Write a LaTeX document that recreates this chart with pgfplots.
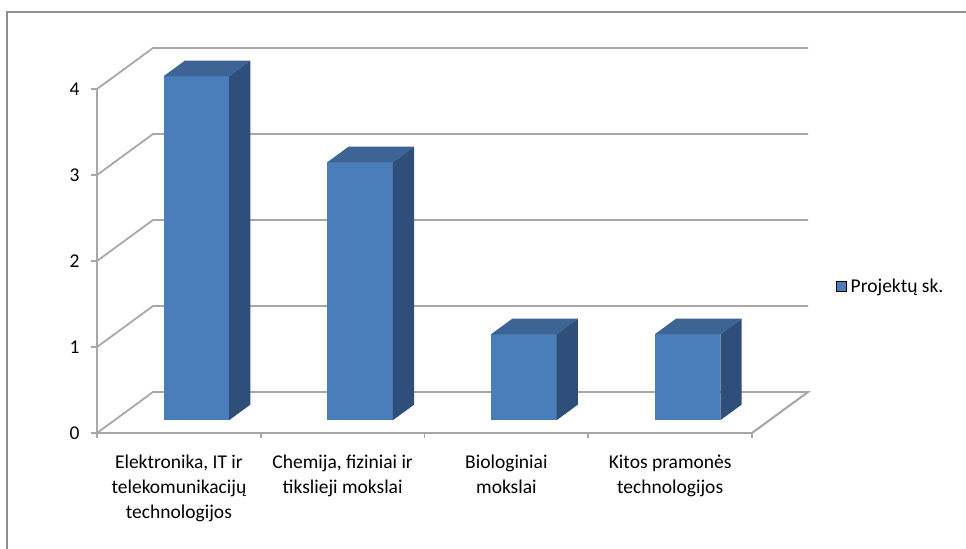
\documentclass[border=0pt]{standalone}
\usepackage{fontspec}
\setmainfont{Carlito}
\usepackage{pgfplots}
\pgfplotsset{compat=1.18}

\definecolor{barfront}{HTML}{4A7EBB}
\definecolor{bartop}{HTML}{3C6494}
\definecolor{barside}{HTML}{2F4F7A}
\definecolor{gridgray}{HTML}{A8A8A8}
\definecolor{framegray}{HTML}{8E8E8E}

% one 3D bar: x from, x to, value (depth 0.31 .. 0.69)
\newcommand{\cuboid}[3]{%
  \addplot3[fill=barfront, draw=none, forget plot] coordinates {(#1,0.31,0) (#2,0.31,0) (#2,0.31,#3) (#1,0.31,#3)};
  \addplot3[fill=bartop, draw=none, forget plot] coordinates {(#1,0.31,#3) (#2,0.31,#3) (#2,0.69,#3) (#1,0.69,#3)};
  \addplot3[fill=barside, draw=none, forget plot] coordinates {(#2,0.31,0) (#2,0.69,0) (#2,0.69,#3) (#2,0.31,#3)};
}

\begin{document}
\begin{tikzpicture}[font=\fontsize{9.75pt}{12.5pt}\selectfont]
\path[use as bounding box] (0,0) rectangle (483pt,274.5pt);
\begin{axis}[
    at={(89.45pt,58pt)}, anchor=origin,
    x={(81.875pt,0pt)}, y={(28pt,20.5pt)}, z={(0pt,43pt)},
    xmin=-0.5, xmax=3.5, ymin=0, ymax=1, zmin=0, zmax=4,
    clip=false,
    axis lines*=left,
    axis line style={gridgray, line width=0.9pt},
    major tick length=0pt,
    xtick={0,1,2,3},
    xticklabels={{Elektronika, IT ir\\telekomunikacijų\\technologijos},
                 {Chemija, fiziniai ir\\tikslieji mokslai},
                 {Biologiniai\\mokslai},
                 {Kitos pramonės\\technologijos}},
    ytick=\empty,
    ztick={0,1,2,3,4},
    /pgf/number format/assume math mode=true,
    xticklabel style={anchor=north, align=center, yshift=-7.25pt},
    zticklabel style={anchor=east, xshift=-5.25pt},
    legend style={at={(axis cs:4.01,0,1.7)}, anchor=west, draw=none, fill=none, inner sep=0pt},
    legend image code/.code={\fill[#1] (0pt,-2.5pt) rectangle (5pt,2.5pt);},
]
% grid on the left and back walls
\pgfplotsinvokeforeach{1,2,3,4}{
  \addplot3[gridgray, line width=0.9pt, forget plot] coordinates {(-0.5,0,#1) (-0.5,1,#1) (3.5,1,#1)};
}
% floor
\addplot3[gridgray, line width=0.9pt, forget plot] coordinates {(-0.5,0,0) (-0.5,1,0) (3.5,1,0) (3.5,0,0)};
% tick marks
\pgfplotsinvokeforeach{0,1,2,3,4}{
  \addplot3[gridgray, line width=0.9pt, forget plot] coordinates {(-0.535,0,#1) (-0.5,0,#1)};
}
\pgfplotsinvokeforeach{-0.5,0.5,1.5,2.5,3.5}{
  \addplot3[gridgray, line width=0.9pt, forget plot] coordinates {(#1,0,0) (#1,0,-0.06)};
}
% bars
\cuboid{-0.2}{0.2}{4}
\cuboid{0.8}{1.2}{3}
\cuboid{1.8}{2.2}{1}
\cuboid{2.8}{3.2}{1}
\addlegendimage{fill=barfront}
\addlegendentry{Projektų sk.}
\end{axis}
\draw[framegray, line width=1pt] (3.5pt,-10pt) rectangle (500pt,268.5pt);
\end{tikzpicture}
\end{document}
